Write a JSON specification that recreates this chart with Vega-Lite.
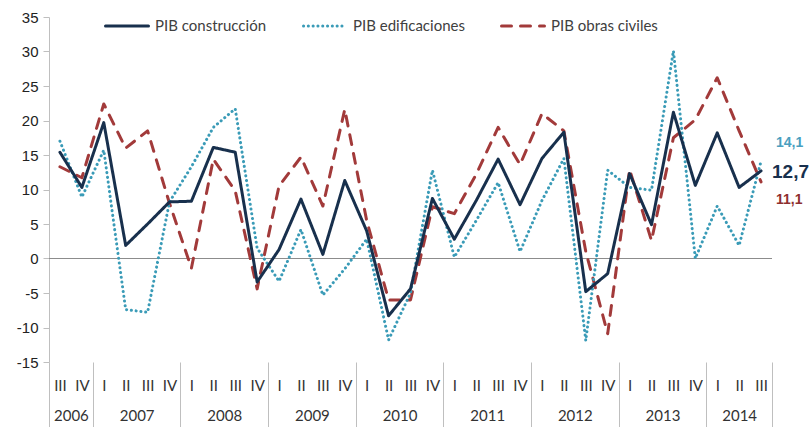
{
  "$schema": "https://vega.github.io/schema/vega-lite/v6.json",
  "width": 723,
  "height": 345,
  "autosize": {"type": "none"},
  "padding": {"left": 49, "top": 17, "right": 40, "bottom": 65},
  "background": "white",
  "config": {
    "view": {"stroke": null},
    "locale": {"number": {"decimal": ",", "thousands": ".", "grouping": [3], "currency": ["", " €"], "minus": "-"}},
    "axisY": {
      "title": null, "grid": false, "tickCount": 20,
      "domainColor": "#bfbfbf", "tickColor": "#bfbfbf", "tickSize": 6,
      "labelFont": "Liberation Sans", "labelFontSize": 15, "labelColor": "#222222", "labelPadding": 5,
      "labelFlush": false, "labelOverlap": false, "labelBound": false, "format": "d"
    }
  },
  "datasets": {
    "pib": [
      {"n": 0, "anio": 2006, "trimestre": "III", "PIB construcción": 15.4, "PIB edificaciones": 17.0, "PIB obras civiles": 13.3},
      {"n": 1, "anio": 2006, "trimestre": "IV", "PIB construcción": 10.3, "PIB edificaciones": 8.9, "PIB obras civiles": 11.7},
      {"n": 2, "anio": 2007, "trimestre": "I", "PIB construcción": 19.7, "PIB edificaciones": 15.7, "PIB obras civiles": 22.4},
      {"n": 3, "anio": 2007, "trimestre": "II", "PIB construcción": 1.9, "PIB edificaciones": -7.4, "PIB obras civiles": 16.0},
      {"n": 4, "anio": 2007, "trimestre": "III", "PIB construcción": 5.0, "PIB edificaciones": -7.8, "PIB obras civiles": 18.5},
      {"n": 5, "anio": 2007, "trimestre": "IV", "PIB construcción": 8.2, "PIB edificaciones": 8.2, "PIB obras civiles": 8.0},
      {"n": 6, "anio": 2008, "trimestre": "I", "PIB construcción": 8.3, "PIB edificaciones": 13.3, "PIB obras civiles": -1.4},
      {"n": 7, "anio": 2008, "trimestre": "II", "PIB construcción": 16.1, "PIB edificaciones": 19.0, "PIB obras civiles": 14.4},
      {"n": 8, "anio": 2008, "trimestre": "III", "PIB construcción": 15.4, "PIB edificaciones": 21.7, "PIB obras civiles": 9.8},
      {"n": 9, "anio": 2008, "trimestre": "IV", "PIB construcción": -3.4, "PIB edificaciones": 1.5, "PIB obras civiles": -4.4},
      {"n": 10, "anio": 2009, "trimestre": "I", "PIB construcción": 1.3, "PIB edificaciones": -3.3, "PIB obras civiles": 10.5},
      {"n": 11, "anio": 2009, "trimestre": "II", "PIB construcción": 8.6, "PIB edificaciones": 4.2, "PIB obras civiles": 14.7},
      {"n": 12, "anio": 2009, "trimestre": "III", "PIB construcción": 0.6, "PIB edificaciones": -5.3, "PIB obras civiles": 7.6},
      {"n": 13, "anio": 2009, "trimestre": "IV", "PIB construcción": 11.3, "PIB edificaciones": -1.5, "PIB obras civiles": 21.6},
      {"n": 14, "anio": 2010, "trimestre": "I", "PIB construcción": 4.0, "PIB edificaciones": 2.8, "PIB obras civiles": 5.5},
      {"n": 15, "anio": 2010, "trimestre": "II", "PIB construcción": -8.3, "PIB edificaciones": -11.8, "PIB obras civiles": -6.0},
      {"n": 16, "anio": 2010, "trimestre": "III", "PIB construcción": -4.4, "PIB edificaciones": -5.0, "PIB obras civiles": -6.0},
      {"n": 17, "anio": 2010, "trimestre": "IV", "PIB construcción": 8.7, "PIB edificaciones": 12.8, "PIB obras civiles": 7.5},
      {"n": 18, "anio": 2011, "trimestre": "I", "PIB construcción": 2.8, "PIB edificaciones": 0.2, "PIB obras civiles": 6.5},
      {"n": 19, "anio": 2011, "trimestre": "II", "PIB construcción": 8.4, "PIB edificaciones": 5.5, "PIB obras civiles": 12.2},
      {"n": 20, "anio": 2011, "trimestre": "III", "PIB construcción": 14.4, "PIB edificaciones": 11.0, "PIB obras civiles": 19.0},
      {"n": 21, "anio": 2011, "trimestre": "IV", "PIB construcción": 7.8, "PIB edificaciones": 1.0, "PIB obras civiles": 13.6},
      {"n": 22, "anio": 2012, "trimestre": "I", "PIB construcción": 14.5, "PIB edificaciones": 8.4, "PIB obras civiles": 21.0},
      {"n": 23, "anio": 2012, "trimestre": "II", "PIB construcción": 18.3, "PIB edificaciones": 14.5, "PIB obras civiles": 18.5},
      {"n": 24, "anio": 2012, "trimestre": "III", "PIB construcción": -4.8, "PIB edificaciones": -11.9, "PIB obras civiles": 1.0},
      {"n": 25, "anio": 2012, "trimestre": "IV", "PIB construcción": -2.2, "PIB edificaciones": 12.8, "PIB obras civiles": -10.9},
      {"n": 26, "anio": 2013, "trimestre": "I", "PIB construcción": 12.3, "PIB edificaciones": 10.3, "PIB obras civiles": 12.9},
      {"n": 27, "anio": 2013, "trimestre": "II", "PIB construcción": 4.9, "PIB edificaciones": 9.9, "PIB obras civiles": 2.6},
      {"n": 28, "anio": 2013, "trimestre": "III", "PIB construcción": 21.2, "PIB edificaciones": 30.1, "PIB obras civiles": 17.5},
      {"n": 29, "anio": 2013, "trimestre": "IV", "PIB construcción": 10.6, "PIB edificaciones": 0.0, "PIB obras civiles": 20.1},
      {"n": 30, "anio": 2014, "trimestre": "I", "PIB construcción": 18.2, "PIB edificaciones": 7.6, "PIB obras civiles": 26.2},
      {"n": 31, "anio": 2014, "trimestre": "II", "PIB construcción": 10.3, "PIB edificaciones": 1.9, "PIB obras civiles": 18.5},
      {"n": 32, "anio": 2014, "trimestre": "III", "PIB construcción": 12.7, "PIB edificaciones": 14.1, "PIB obras civiles": 11.1}
    ]
  },
  "resolve": {"axis": {"x": "independent"}},
  "layer": [
    {
      "data": {"values": [{}]},
      "mark": {"type": "rule", "color": "#8c8c8c", "strokeWidth": 1},
      "encoding": {"y": {"datum": 0, "type": "quantitative", "axis": {"tickCount": 20, "labelOverlap": false, "values": [-15,-10,-5,0,5,10,15,20,25,30,35]}}}
    },
    {
      "data": {"name": "pib"},
      "transform": [{"fold": ["PIB obras civiles", "PIB edificaciones", "PIB construcción"], "as": ["serie", "valor"]}],
      "mark": {"type": "line", "strokeCap": "round", "strokeJoin": "round"},
      "encoding": {
        "x": {
          "field": "n", "type": "quantitative",
          "scale": {"domain": [-0.5, 32.5], "nice": false, "zero": false},
          "axis": {
            "orient": "bottom", "title": null, "grid": false, "domain": false, "ticks": false, "tickCount": 40,
            "values": [0,1,2,3,4,5,6,7,8,9,10,11,12,13,14,15,16,17,18,19,20,21,22,23,24,25,26,27,28,29,30,31,32],
            "labelExpr": "['III','IV','I','II'][datum.value % 4]",
            "labelFont": "Lato", "labelFontSize": 15, "labelColor": "#333333", "labelPadding": 16,
            "labelFlush": false, "labelOverlap": false, "labelBound": false
          }
        },
        "y": {
          "field": "valor", "type": "quantitative",
          "scale": {"domain": [-15, 35], "nice": false, "zero": false},
          "axis": {"tickCount": 20, "labelOverlap": false, "values": [-15,-10,-5,0,5,10,15,20,25,30,35]}
        },
        "color": {
          "field": "serie", "type": "nominal",
          "scale": {"domain": ["PIB construcción", "PIB edificaciones", "PIB obras civiles"], "range": ["#18304d", "#3a9bb7", "#a23a3a"]},
          "legend": {
            "orient": "none", "legendX": 55, "legendY": -14, "direction": "horizontal", "title": null,
            "symbolType": "stroke", "symbolSize": 1849, "labelFont": "Lato", "labelFontSize": 15,
            "labelColor": "#404040", "labelOffset": 5, "columnPadding": 30, "labelLimit": 300,
            "encode": {"symbols": {"update": {"strokeCap": {"value": "round"}}}}
          }
        },
        "strokeDash": {
          "field": "serie", "type": "nominal",
          "scale": {"domain": ["PIB construcción", "PIB edificaciones", "PIB obras civiles"], "range": [[1, 0], [0.1, 4.7], [10, 9]]}
        },
        "strokeWidth": {
          "field": "serie", "type": "nominal",
          "scale": {"domain": ["PIB construcción", "PIB edificaciones", "PIB obras civiles"], "range": [3, 3, 3.5]}
        }
      }
    },
    {
      "data": {"name": "pib"},
      "transform": [
        {"fold": ["PIB edificaciones"], "as": ["serie", "valor"]},
        {"filter": "datum.n == 32"}
      ],
      "mark": {"type": "text", "align": "left", "baseline": "middle", "dx": 15, "dy": -18, "font": "Liberation Sans", "fontSize": 14, "fontWeight": "bold", "color": "#4a9fc0"},
      "encoding": {
        "x": {
          "field": "n", "type": "quantitative",
          "axis": {
            "orient": "bottom", "title": null, "grid": false, "domain": false, "labels": false, "tickCount": 40,
            "values": [-0.5, 1.5, 5.5, 9.5, 13.5, 17.5, 21.5, 25.5, 29.5, 32.5],
            "ticks": true, "tickSize": 65, "tickColor": "#bfbfbf", "tickWidth": 1
          }
        },
        "y": {"field": "valor", "type": "quantitative", "axis": {"tickCount": 20, "labelOverlap": false, "values": [-15,-10,-5,0,5,10,15,20,25,30,35]}},
        "text": {"field": "valor", "type": "quantitative", "format": ".1f"}
      }
    },
    {
      "data": {"name": "pib"},
      "transform": [
        {"fold": ["PIB obras civiles"], "as": ["serie", "valor"]},
        {"filter": "datum.n == 32"}
      ],
      "mark": {"type": "text", "align": "left", "baseline": "middle", "dx": 15, "dy": 18, "font": "Liberation Sans", "fontSize": 14, "fontWeight": "bold", "color": "#8e2f2f"},
      "encoding": {
        "x": {
          "field": "n", "type": "quantitative",
          "axis": {
            "orient": "bottom", "title": null, "grid": false, "domain": false, "ticks": false, "tickCount": 40,
            "values": [0.5, 3.5, 7.5, 11.5, 15.5, 19.5, 23.5, 27.5, 31],
            "labelExpr": "'' + (2006 + floor((datum.value + 2) / 4))",
            "labelFont": "Lato", "labelFontSize": 15, "labelColor": "#333333", "labelPadding": 46,
            "labelFlush": false, "labelOverlap": false, "labelBound": false
          }
        },
        "y": {"field": "valor", "type": "quantitative", "axis": {"tickCount": 20, "labelOverlap": false, "values": [-15,-10,-5,0,5,10,15,20,25,30,35]}},
        "text": {"field": "valor", "type": "quantitative", "format": ".1f"}
      }
    },
    {
      "data": {"name": "pib"},
      "transform": [
        {"fold": ["PIB construcción"], "as": ["serie", "valor"]},
        {"filter": "datum.n == 32"}
      ],
      "mark": {"type": "text", "align": "left", "baseline": "middle", "dx": 11, "dy": 1, "font": "Liberation Sans", "fontSize": 19, "fontWeight": "bold", "color": "#18304d"},
      "encoding": {
        "x": {"field": "n", "type": "quantitative", "axis": null},
        "y": {"field": "valor", "type": "quantitative", "axis": {"tickCount": 20, "labelOverlap": false, "values": [-15,-10,-5,0,5,10,15,20,25,30,35]}},
        "text": {"field": "valor", "type": "quantitative", "format": ".1f"}
      }
    }
  ]
}
